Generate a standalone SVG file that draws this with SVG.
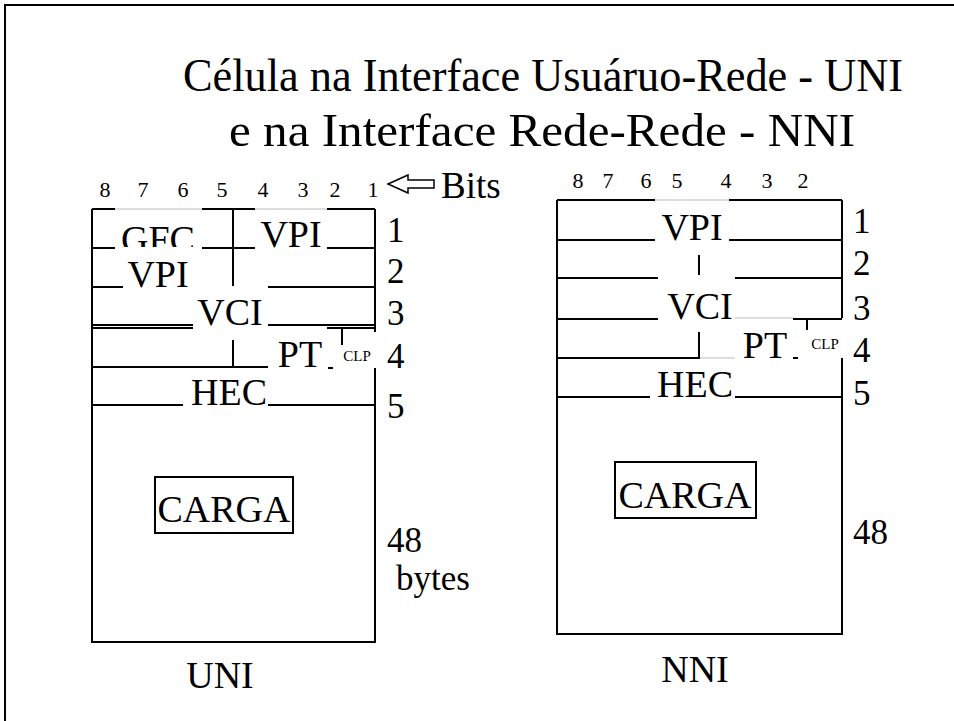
<svg xmlns="http://www.w3.org/2000/svg" width="954" height="721" viewBox="0 0 954 721" font-family="Liberation Serif, Times New Roman, serif">
<style>
text{font-family:"Liberation Serif","Times New Roman",serif;fill:#000}
.t{font-size:47px}
.f{font-size:38px;text-anchor:middle}
.lb{font-size:35px}
.b{font-size:22px;text-anchor:middle}
.s{font-size:15px;text-anchor:middle}
.k{stroke:#000;stroke-width:2;fill:none}
.g{stroke:#bbb;stroke-width:1;fill:none}
</style>
<defs>
<clipPath id="gfcClip"><rect x="100" y="200" width="120" height="47"/></clipPath>
</defs>
<rect x="0" y="0" width="954" height="721" fill="#fff"/>
<path class="k" d="M5,721 V5 H954"/>
<g id="title">
<text class="t" x="183" y="91" textLength="720" lengthAdjust="spacingAndGlyphs">Célula na Interface Usuáruo-Rede - UNI</text>
<text class="t" x="229" y="146" textLength="626" lengthAdjust="spacingAndGlyphs">e na Interface Rede-Rede - NNI</text>
</g>
<g id="uni">
<g id="uni-bits">
<text class="b" x="105" y="197">8</text><text class="b" x="143" y="197">7</text><text class="b" x="183" y="197">6</text><text class="b" x="222" y="197">5</text><text class="b" x="263" y="197">4</text><text class="b" x="303" y="197">3</text><text class="b" x="335" y="197">2</text><text class="b" x="373" y="197">1</text>
<polygon points="388,184 408,175 408,180 434,180 434,188 408,188 408,193" fill="#fff" stroke="#000" stroke-width="1.5"/>
<text class="lb" x="441" y="198" style="font-size:37px">Bits</text>
</g>
<g id="uni-frame">
<path class="k" d="M92,209 V642 H375 V368 M375,332 V209"/>
<path class="k" d="M92,209 H115 M202,209 H255 M327,209 H375"/>
<path class="g" d="M115,209 H202 M255,209 H327"/>
<path class="k" d="M92,248 H115 M202,248 H255 M327,248 H375"/>
<path class="k" d="M233,209 V286"/>
<path class="k" d="M92,287 H123 M268,287 H375"/>
<path class="k" d="M92,325 H193 M268,325 H374 M92,328 H193 M327,328 H374 M342,328 V345"/>
<path class="k" d="M233,340 V367 M92,367 H268 M328,368 H333"/>
<path class="k" d="M92,405 H183 M268,405 H375"/>
</g>
<g id="uni-gfc"><text class="f" x="158" y="252" clip-path="url(#gfcClip)">GFC</text></g>
<g id="uni-vpi1"><text class="f" x="291" y="247">VPI</text></g>
<g id="uni-vpi2"><text class="f" x="158" y="287">VPI</text></g>
<g id="uni-vci"><text class="f" x="230" y="325">VCI</text></g>
<g id="uni-pt"><text class="f" x="300" y="367">PT</text></g>
<g id="uni-clp"><text class="s" x="357" y="361">CLP</text></g>
<g id="uni-hec"><text class="f" x="229" y="405">HEC</text></g>
<g id="uni-carga">
<rect class="k" x="155" y="477" width="138" height="56"/>
<text class="f" x="224" y="522">CARGA</text>
</g>
<g id="uni-labels">
<text class="lb" x="387" y="242">1</text>
<text class="lb" x="387" y="283">2</text>
<text class="lb" x="387" y="325">3</text>
<text class="lb" x="387" y="368">4</text>
<text class="lb" x="387" y="418">5</text>
<text class="lb" x="387" y="552">48</text>
<text class="lb" x="396" y="590">bytes</text>
<text class="f" x="220" y="688">UNI</text>
</g>
</g>
<g id="nni">
<g id="nni-bits">
<text class="b" x="578" y="188">8</text><text class="b" x="608" y="188">7</text><text class="b" x="646" y="188">6</text><text class="b" x="677" y="188">5</text><text class="b" x="726" y="188">4</text><text class="b" x="767" y="188">3</text><text class="b" x="803" y="188">2</text>
</g>
<g id="nni-frame">
<path class="k" d="M557,200 V634 H842 V358 M842,318 V200"/>
<path class="k" d="M557,200 H655 M729,200 H842"/>
<path class="g" d="M655,200 H729"/>
<path class="k" d="M557,240 H655 M729,240 H842"/>
<path class="k" d="M699,255 V275"/>
<path class="k" d="M557,278 H658 M735,278 H842"/>
<path class="k" d="M557,319 H658 M793,319 H842 M807,319 V330"/>
<path class="g" d="M735,318 H793"/>
<path class="k" d="M699,332 V358 M557,358 H700 M793,358 H798"/>
<path class="g" d="M700,358 H735"/>
<path class="k" d="M557,397 H650 M735,397 H842"/>
</g>
<g id="nni-vpi"><text class="f" x="692" y="240">VPI</text></g>
<g id="nni-vci"><text class="f" x="700" y="319">VCI</text></g>
<g id="nni-pt"><text class="f" x="765" y="358">PT</text></g>
<g id="nni-clp"><text class="s" x="825" y="349">CLP</text></g>
<g id="nni-hec"><text class="f" x="695" y="397">HEC</text></g>
<g id="nni-carga">
<rect class="k" x="615" y="462" width="141" height="56"/>
<text class="f" x="685" y="508">CARGA</text>
</g>
<g id="nni-labels">
<text class="lb" x="853" y="233">1</text>
<text class="lb" x="853" y="275">2</text>
<text class="lb" x="853" y="320">3</text>
<text class="lb" x="853" y="362">4</text>
<text class="lb" x="853" y="405">5</text>
<text class="lb" x="853" y="544">48</text>
<text class="f" x="695" y="682">NNI</text>
</g>
</g>
<g id="connectors"/>
</svg>
